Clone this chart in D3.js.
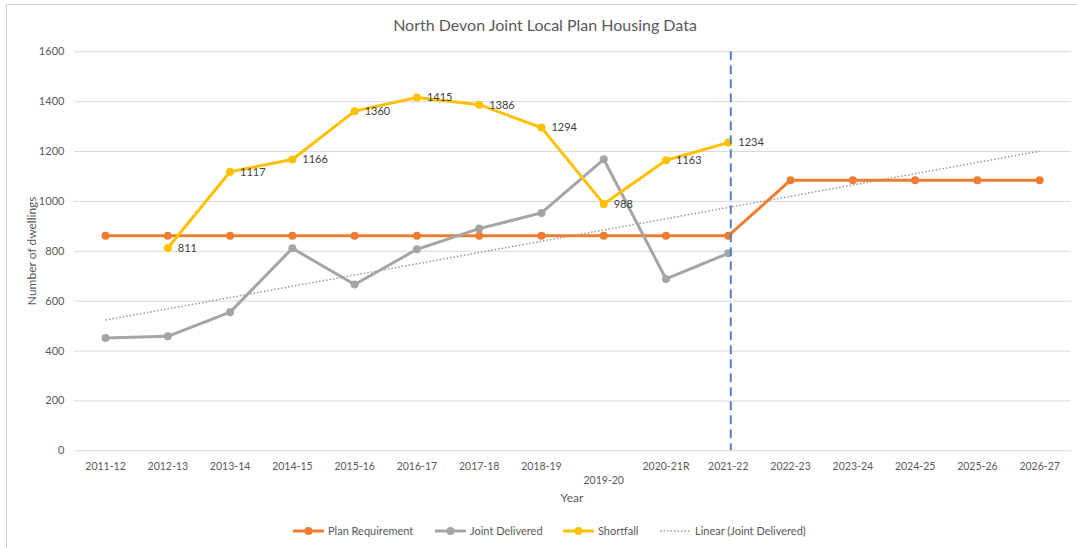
<!DOCTYPE html>
<html>
<head>
<meta charset="utf-8">
<script src="https://cdn.jsdelivr.net/npm/d3@7"></script>
<style>
	body { margin: 0; background: #fff; }
	svg { display: block; font-family: Lato, "Open Sans", sans-serif; }
</style>
</head>
<body>
<svg id="chart"></svg>
<script>
const years = ["2011-12", "2012-13", "2013-14", "2014-15", "2015-16", "2016-17", "2017-18", "2018-19",
	"2019-20", "2020-21R", "2021-22", "2022-23", "2023-24", "2024-25", "2025-26", "2026-27"];
const planRequirement = [860, 860, 860, 860, 860, 860, 860, 860, 860, 860, 860, 1083, 1083, 1083, 1083, 1083];
const jointDelivered = [450, 457, 554, 810, 665, 806, 889, 952, 1167, 687, 790, null, null, null, null, null];
const shortfall = [null, 811, 1117, 1166, 1360, 1415, 1386, 1294, 988, 1163, 1234, null, null, null, null, null];
const yTicks = [0, 200, 400, 600, 800, 1000, 1200, 1400, 1600];
const markerYear = "2021-22";

const width = 1077;
const height = 548;

const svg = d3.select("#chart")
	.attr("width", width)
	.attr("height", height);

// chart area border
svg.append("rect")
	.attr("x", 6.5)
	.attr("y", 4.5)
	.attr("width", width)
	.attr("height", height)
	.attr("fill", "none")
	.attr("stroke", "#d0d0d0");

const x = d3.scaleBand()
	.domain(years)
	.range([74.4, 1070.8]);
const cx = d => x(d) + x.bandwidth() / 2;

const y = d3.scaleLinear()
	.domain([0, 1600])
	.range([450.3, 51.3]);

// gridlines + y labels
const yAxis = svg.append("g")
	.attr("transform", `translate(${x.range()[0]},0)`)
	.call(d3.axisLeft(y)
		.tickValues(yTicks)
		.tickSize(-(x.range()[1] - x.range()[0]))
		.tickPadding(10)
		.tickFormat(d3.format("d")));
yAxis.select(".domain").remove();
yAxis.selectAll(".tick line").attr("stroke", "#d9d9d9");
yAxis.selectAll(".tick text")
	.attr("fill", "#595959")
	.style("font-size", "11px")
	.style("font-family", "Lato, sans-serif");

// x labels (2019-20 is staggered down, as in the original)
const xAxis = svg.append("g")
	.attr("transform", `translate(0,${y(0)})`)
	.call(d3.axisBottom(x).tickSize(0).tickPadding(12));
xAxis.select(".domain").remove();
xAxis.selectAll(".tick text")
	.attr("fill", "#595959")
	.style("font-size", "10.5px")
	.style("font-family", "Lato, sans-serif")
	.attr("dy", d => d === "2019-20" ? "2.05em" : "0.71em");

// title and axis titles
svg.append("text")
	.attr("x", 545)
	.attr("y", 31)
	.attr("text-anchor", "middle")
	.attr("fill", "#595959")
	.style("font-size", "16px")
	.text("North Devon Joint Local Plan Housing Data");

svg.append("text")
	.attr("transform", `translate(36,${(y(0) + y(1600)) / 2}) rotate(-90)`)
	.attr("text-anchor", "middle")
	.attr("fill", "#595959")
	.style("font-size", "12px")
	.text("Number of dwellings");

svg.append("text")
	.attr("x", 572)
	.attr("y", 502)
	.attr("text-anchor", "middle")
	.attr("fill", "#595959")
	.style("font-size", "12px")
	.text("Year");

// linear trendline of Joint Delivered, forecast to the last year
const known = jointDelivered.map((v, i) => [i, v]).filter(d => d[1] != null);
const mx = d3.mean(known, d => d[0]);
const my = d3.mean(known, d => d[1]);
const slope = d3.sum(known, d => (d[0] - mx) * (d[1] - my)) / d3.sum(known, d => (d[0] - mx) ** 2);
const trend = i => my + slope * (i - mx);

svg.append("line")
	.attr("x1", cx(years[0]))
	.attr("x2", cx(years[years.length - 1]))
	.attr("y1", y(trend(0)))
	.attr("y2", y(trend(years.length - 1)))
	.attr("stroke", "#999")
	.attr("stroke-width", 1.5)
	.attr("stroke-dasharray", "1.5,2");

const series = [
	{ name: "Plan Requirement", values: planRequirement, color: "#ed7d31" },
	{ name: "Joint Delivered", values: jointDelivered, color: "#a5a5a5" },
	{ name: "Shortfall", values: shortfall, color: "#ffc000" }
];

const line = d3.line()
	.defined(d => d[1] != null)
	.x(d => cx(d[0]))
	.y(d => y(d[1]));

series.forEach(s => {
	const pts = years.map((yr, i) => [yr, s.values[i]]);
	svg.append("path")
		.datum(pts)
		.attr("d", line)
		.attr("fill", "none")
		.attr("stroke", s.color)
		.attr("stroke-width", 3)
		.attr("stroke-linejoin", "round");
	svg.append("g").selectAll("circle")
		.data(pts.filter(d => d[1] != null))
		.enter().append("circle")
		.attr("cx", d => cx(d[0]))
		.attr("cy", d => y(d[1]))
		.attr("r", 4)
		.attr("fill", s.color);
});

// Shortfall data labels
svg.append("g").selectAll("text")
	.data(years.map((yr, i) => [yr, shortfall[i]]).filter(d => d[1] != null))
	.enter().append("text")
	.attr("x", d => cx(d[0]) + 10)
	.attr("y", d => y(d[1]))
	.attr("dy", "0.35em")
	.attr("fill", "#404040")
	.style("font-size", "11px")
	.text(d => d[1]);

// vertical dashed marker
svg.append("line")
	.attr("x1", cx(markerYear) + 2.5)
	.attr("x2", cx(markerYear) + 2.5)
	.attr("y1", y(1600))
	.attr("y2", y(0))
	.attr("stroke", "#5b80c8")
	.attr("stroke-width", 2)
	.attr("stroke-dasharray", "9,5");

// legend
const legendItems = [
	{ name: "Plan Requirement", color: "#ed7d31", x: 293, marker: true },
	{ name: "Joint Delivered", color: "#a5a5a5", x: 435, marker: true },
	{ name: "Shortfall", color: "#ffc000", x: 563, marker: true },
	{ name: "Linear (Joint Delivered)", color: "#999", x: 660, marker: false }
];
const legend = svg.append("g").attr("transform", "translate(0,531)");
legendItems.forEach(d => {
	const g = legend.append("g").attr("transform", `translate(${d.x},0)`);
	g.append("line")
		.attr("x1", 0).attr("x2", 31)
		.attr("stroke", d.color)
		.attr("stroke-width", d.marker ? 3 : 1.5)
		.attr("stroke-dasharray", d.marker ? null : "1.5,2");
	if (d.marker) {
		g.append("circle").attr("cx", 15.5).attr("r", 4).attr("fill", d.color);
	}
	g.append("text")
		.attr("x", 35)
		.attr("dy", "0.35em")
		.attr("fill", "#595959")
		.style("font-size", "11px")
		.text(d.name);
});
</script>
</body>
</html>
